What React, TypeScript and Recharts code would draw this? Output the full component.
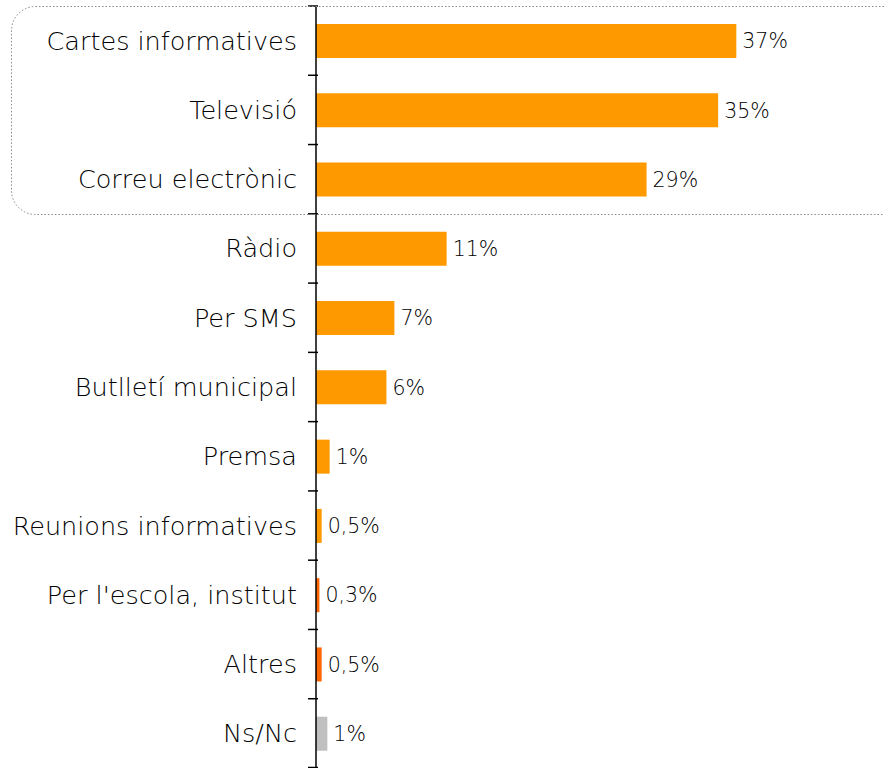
import React from "react";
import { BarChart, Bar, XAxis, YAxis, Cell, LabelList } from "recharts";

const categories = [
  "Cartes informatives",
  "Televisió",
  "Correu electrònic",
  "Ràdio",
  "Per SMS",
  "Butlletí municipal",
  "Premsa",
  "Reunions informatives",
  "Per l'escola, institut",
  "Altres",
  "Ns/Nc",
];
const values = [37, 35.4, 29.1, 11.5, 6.9, 6.2, 1.2, 0.5, 0.3, 0.5, 1.0];
const valueLabels = ["37%", "35%", "29%", "11%", "7%", "6%", "1%", "0,5%", "0,3%", "0,5%", "1%"];
const barColors = [
  "#FF9900", "#FF9900", "#FF9900", "#FF9900", "#FF9900", "#FF9900",
  "#FF9900", "#FF9900", "#FF6600", "#FF6600", "#C0C0C0",
];

const data = categories.map((name, i) => ({ name, value: values[i], label: valueLabels[i] }));

const FONT = "'DejaVu Sans', sans-serif";
const BAND = 762 / categories.length;

function CategoryTick(props: any) {
  const { x, y, payload, index } = props;
  const last = index === categories.length - 1;
  return (
    <g>
      <line x1={x} x2={x + 10} y1={y - BAND / 2} y2={y - BAND / 2} stroke="#000" strokeWidth={1.5} />
      {last && (
        <line x1={x} x2={x + 10} y1={y + BAND / 2 - 0.5} y2={y + BAND / 2 - 0.5} stroke="#000" strokeWidth={1.5} />
      )}
      <text x={x - 11} y={y} dy={9} textAnchor="end" fill="#000" fontSize={25.5} fontWeight={300} fontFamily={FONT}>
        {payload.value}
      </text>
    </g>
  );
}

export default function App() {
  return (
    <div style={{ position: "absolute", left: 0, top: 0, width: 884, height: 768, background: "#fff" }}>
      <BarChart
        width={884}
        height={768}
        data={data}
        layout="vertical"
        margin={{ top: 6, right: 0, bottom: 0, left: 0 }}
        barCategoryGap={0}
      >
        <XAxis type="number" domain={[0, 50]} hide />
        <YAxis
          type="category"
          dataKey="name"
          width={316}
          axisLine={{ stroke: "#000", strokeWidth: 1.5 }}
          tickLine={false}
          tick={<CategoryTick />}
          interval={0}
        />
        <Bar dataKey="value" barSize={34} isAnimationActive={false}>
          {data.map((d, i) => (
            <Cell key={d.name} fill={barColors[i]} />
          ))}
          <LabelList
            dataKey="label"
            position="right"
            offset={6}
            fill="#000"
            fontSize={20.5}
            fontWeight={300}
            fontFamily={FONT}
          />
        </Bar>
      </BarChart>
      <svg width={884} height={768} style={{ position: "absolute", left: 0, top: 0, pointerEvents: "none" }}>
        <rect
          x={11.5}
          y={6.5}
          width={900}
          height={208}
          rx={24}
          ry={24}
          fill="none"
          stroke="#888"
          strokeWidth={1}
          strokeDasharray="1.5 2"
        />
      </svg>
    </div>
  );
}
